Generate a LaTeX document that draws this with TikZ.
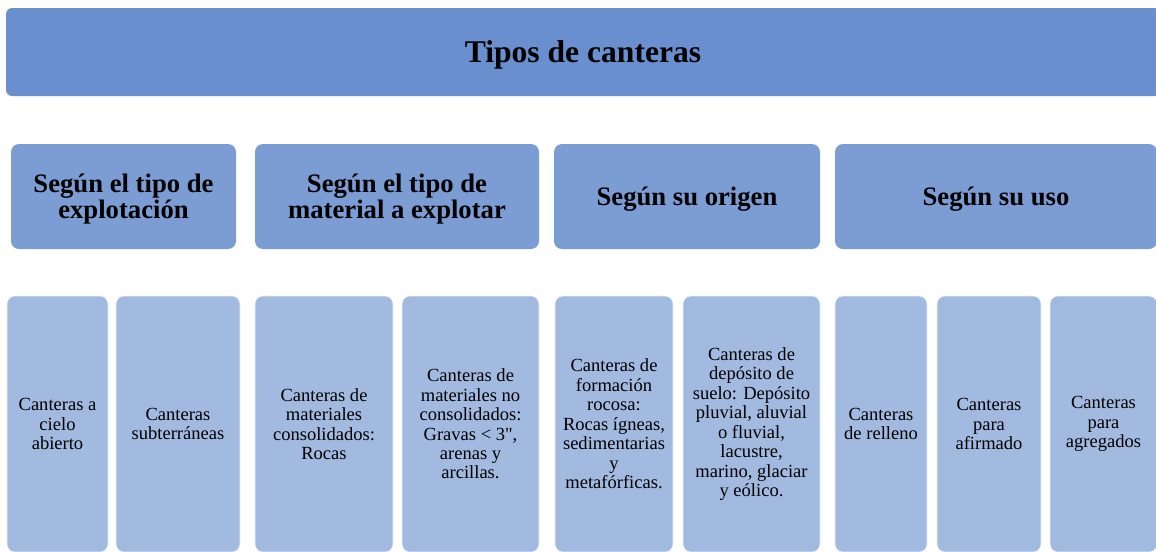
\documentclass[tikz,border=0pt]{standalone}
\usepackage{fontspec}
\setmainfont{Liberation Serif}
\newfontfamily\cnplain{Liberation Serif}
\usetikzlibrary{positioning}
\definecolor{cntop}{HTML}{6A8FCF}
\definecolor{cnmid}{HTML}{7B9DD4}
\definecolor{cnleaf}{HTML}{A2B9E0}

\begin{document}
\begin{tikzpicture}[
  x=0.75pt, y=-0.75pt,
  topnode/.style={rectangle, fill=cntop, rounded corners=4.5pt, inner sep=0pt, minimum width=865.5pt, minimum height=66pt},
  catnode/.style={rectangle, fill=cnmid, rounded corners=6pt, inner sep=0pt, minimum height=78.75pt},
  catlbl/.style={align=center, font=\fontsize{20}{20}\selectfont\bfseries},
  leafnode/.style={rectangle, fill=cnleaf, draw=white!85!cnleaf, line width=0.4pt, rounded corners=6pt, inner sep=0pt, minimum height=192pt, align=center, font=\fontsize{13.9}{14.6}\selectfont},
]
\clip (0,0) rectangle (1156,551);

% Top: title
\node[topnode] (tipos) at (583, 52) {};
\node[font=\fontsize{23.7}{28}\selectfont\bfseries] (tiposlbl) at (583, 55) {Tipos de canteras};

% Middle row: criteria
\node[catnode, minimum width=168.75pt] (explot) at (123.5, 196.5) {};
\node[catnode, minimum width=213pt] (mater) at (397, 196.5) {};
\node[catnode, minimum width=199.5pt] (origen) at (687, 196.5) {};
\node[catnode, minimum width=241.5pt] (uso) at (996, 196.5) {};
\node[catlbl] (explotlbl) at ([yshift=-2pt]explot) {Según el tipo de\\explotación};
\node[catlbl] (materlbl) at ([yshift=-2pt]mater) {Según el tipo de\\material a explotar};
\node[catlbl] (origenlbl) at ([yshift=-2pt]origen) {Según su origen};
\node[catlbl] (usolbl) at ([yshift=-2pt]uso) {Según su uso};

% Bottom row: types
\node[leafnode, minimum width=75.75pt] (cielo) at (57.5, 424) {Canteras a\\cielo\\abierto};
\node[leafnode, minimum width=93pt] (subt) at (178, 424) {Canteras\\subterráneas};
\node[leafnode, minimum width=103.5pt] (consol) at (324, 424) {Canteras de\\materiales\\consolidados:\\Rocas};
\node[leafnode, minimum width=102.75pt] (noconsol) at (470.5, 424) {Canteras de\\materiales no\\consolidados:\\Gravas < 3{\cnplain"},\\arenas y\\arcillas.};
\node[leafnode, minimum width=88.5pt] (rocosa) at (614, 424) {Canteras de\\formación\\rocosa:\\Rocas ígneas,\\sedimentarias\\y\\metafórficas.};
\node[leafnode, minimum width=102.75pt] (suelo) at (751.5, 424) {Canteras de\\depósito de\\suelo: Depósito\\pluvial, aluvial\\o fluvial,\\lacustre,\\marino, glaciar\\y eólico.};
\node[leafnode, minimum width=69pt] (relleno) at (881, 424) {Canteras\\de relleno};
\node[leafnode, minimum width=78pt] (afirm) at (989, 424) {Canteras\\para\\afirmado};
\node[leafnode, minimum width=80.25pt] (agreg) at (1103.5, 424) {Canteras\\para\\agregados};

\end{tikzpicture}
\end{document}
